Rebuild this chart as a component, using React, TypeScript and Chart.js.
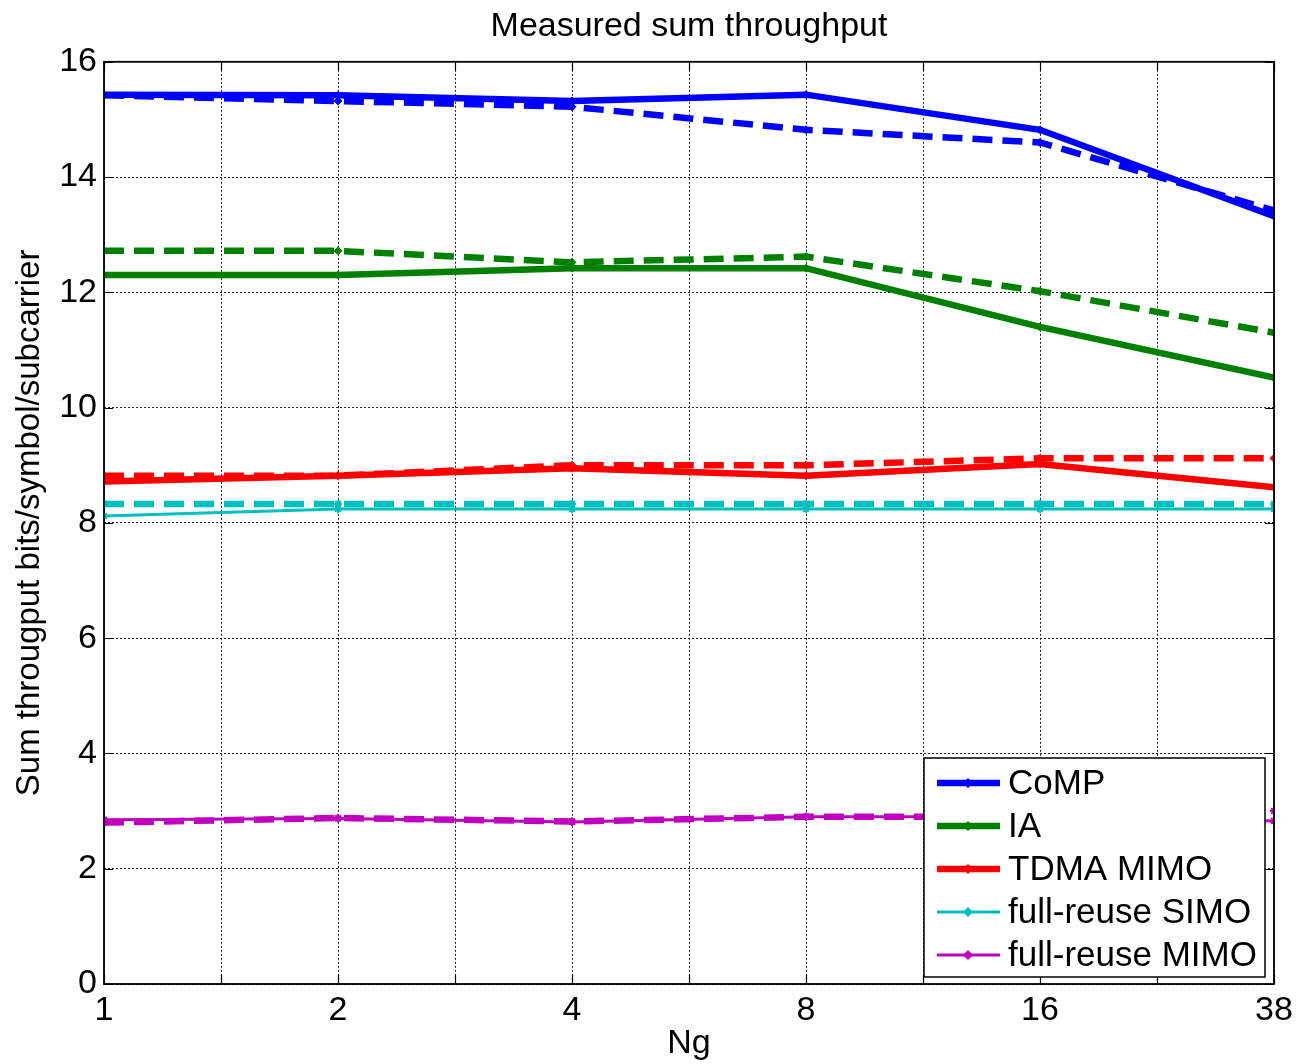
import React, { useEffect, useRef } from 'react';
import { Chart, registerables } from 'chart.js';
Chart.register(...registerables);

const ngLabels = ['1', '2', '4', '8', '16', '38'];
const seriesNames = ['CoMP', 'IA', 'TDMA MIMO', 'full-reuse SIMO', 'full-reuse MIMO'];
const seriesColors = ['#0000ff', '#008000', '#ff0000', '#00bfbf', '#bf00bf'];

const compSolid = [15.43, 15.42, 15.32, 15.43, 14.82, 13.32];
const compDashed = [15.42, 15.32, 15.22, 14.82, 14.6, 13.42];
const iaSolid = [12.3, 12.3, 12.42, 12.42, 11.4, 10.52];
const iaDashed = [12.72, 12.72, 12.52, 12.62, 12.02, 11.3];
const tdmaSolid = [8.72, 8.82, 8.95, 8.82, 9.02, 8.62];
const tdmaDashed = [8.82, 8.82, 9.0, 9.0, 9.12, 9.12];
const simoSolid = [8.12, 8.24, 8.24, 8.24, 8.24, 8.24];
const simoDashed = [8.33, 8.33, 8.33, 8.33, 8.33, 8.33];
const mimoSolid = [2.85, 2.87, 2.81, 2.9, 2.9, 2.83];
const mimoDashed = [2.8, 2.88, 2.82, 2.9, 2.9, 3.0];

const FONT = "'Liberation Sans', Arial, Helvetica, sans-serif";

const toPts = (vals: number[]) => vals.map((v, i) => ({ x: i, y: v }));

function makeDs(label: string, vals: number[], color: string, width: number, dashed: boolean, star: boolean) {
  return {
    label,
    data: toPts(vals),
    borderColor: color,
    backgroundColor: color,
    borderWidth: width,
    borderDash: dashed ? [20, 10] : [],
    pointStyle: star ? 'star' : 'rectRot',
    pointRadius: 4,
    pointBorderWidth: star ? 2 : 1,
    pointBackgroundColor: color,
    pointBorderColor: color,
    tension: 0,
    fill: false,
  };
}

const frameAndLegend = {
  id: 'frameAndLegend',
  afterDatasetsDraw(chart: any) {
    const { ctx, chartArea: ca } = chart;
    const xs = chart.scales.x;
    const ys = chart.scales.y;
    ctx.save();
    ctx.strokeStyle = '#000';
    ctx.lineWidth = 1.2;
    ctx.setLineDash([]);
    xs.ticks.forEach((t: any) => {
      const px = Math.round(xs.getPixelForValue(t.value)) + 0.5;
      ctx.beginPath();
      ctx.moveTo(px, ca.bottom); ctx.lineTo(px, ca.bottom - 9);
      ctx.moveTo(px, ca.top); ctx.lineTo(px, ca.top + 9);
      ctx.stroke();
    });
    ys.ticks.forEach((t: any) => {
      const py = Math.round(ys.getPixelForValue(t.value)) + 0.5;
      ctx.beginPath();
      ctx.moveTo(ca.left, py); ctx.lineTo(ca.left + 9, py);
      ctx.moveTo(ca.right, py); ctx.lineTo(ca.right - 9, py);
      ctx.stroke();
    });
    ctx.lineWidth = 1.8;
    ctx.strokeRect(ca.left, ca.top, ca.right - ca.left, ca.bottom - ca.top);

    const bx = ca.right - 350;
    const by = ca.bottom - 226;
    const bw = 341;
    const bh = 219;
    ctx.fillStyle = '#fff';
    ctx.fillRect(bx, by, bw, bh);
    ctx.lineWidth = 1.5;
    ctx.strokeStyle = '#000';
    ctx.strokeRect(bx, by, bw, bh);
    const widths = [6.5, 6.5, 6.5, 3, 3];
    seriesNames.forEach((name, i) => {
      const cy = by + 25 + i * 43;
      const c = seriesColors[i];
      ctx.strokeStyle = c;
      ctx.fillStyle = c;
      ctx.lineWidth = widths[i];
      ctx.beginPath();
      ctx.moveTo(bx + 13, cy);
      ctx.lineTo(bx + 76, cy);
      ctx.stroke();
      const mx = bx + 44;
      ctx.lineWidth = 1;
      ctx.beginPath();
      ctx.moveTo(mx, cy - 5); ctx.lineTo(mx + 5, cy); ctx.lineTo(mx, cy + 5); ctx.lineTo(mx - 5, cy); ctx.closePath();
      ctx.fill();
      ctx.fillStyle = '#000';
      ctx.font = `35px ${FONT}`;
      ctx.textBaseline = 'middle';
      ctx.textAlign = 'left';
      ctx.fillText(name, bx + 84, cy + 1);
    });
    ctx.restore();
  },
};

export default function App() {
  const ref = useRef<HTMLCanvasElement>(null);
  useEffect(() => {
    document.body.style.margin = '0';
    if (!ref.current) return;
    const datasets = [
      makeDs('CoMP', compSolid, seriesColors[0], 6.5, false, false),
      makeDs('CoMP (dashed)', compDashed, seriesColors[0], 6.5, true, false),
      makeDs('IA', iaSolid, seriesColors[1], 6.5, false, false),
      makeDs('IA (dashed)', iaDashed, seriesColors[1], 6.5, true, false),
      makeDs('TDMA MIMO', tdmaSolid, seriesColors[2], 6.5, false, false),
      makeDs('TDMA MIMO (dashed)', tdmaDashed, seriesColors[2], 6.5, true, false),
      makeDs('full-reuse SIMO', simoSolid, seriesColors[3], 3, false, true),
      makeDs('full-reuse SIMO (dashed)', simoDashed, seriesColors[3], 6.5, true, true),
      makeDs('full-reuse MIMO', mimoSolid, seriesColors[4], 3, false, true),
      makeDs('full-reuse MIMO (dashed)', mimoDashed, seriesColors[4], 6.5, true, true),
    ];
    const chart = new Chart(ref.current, {
      type: 'line',
      data: { datasets } as any,
      options: {
        animation: false,
        responsive: false,
        devicePixelRatio: 1,
        layout: { padding: { top: 0, right: 0, left: 0, bottom: 0 } },
        plugins: {
          legend: { display: false },
          tooltip: { enabled: false },
          title: {
            display: true,
            fullSize: false,
            text: 'Measured sum throughput',
            color: '#000',
            font: { family: FONT, size: 34, weight: 'normal' },
            padding: { top: 6, bottom: 15 },
          },
        },
        scales: {
          x: {
            type: 'linear',
            min: 0,
            max: ngLabels.length - 1,
            afterFit: (s: any) => { s.height = 80; s.paddingRight = 22; s.paddingLeft = 0; },
            afterBuildTicks: (s: any) => {
              const t = [];
              for (let v = 0; v <= ngLabels.length - 1 + 1e-9; v += 0.5) t.push({ value: v });
              s.ticks = t;
            },
            ticks: {
              autoSkip: false,
              maxRotation: 0,
              padding: 6,
              color: '#000',
              font: { family: FONT, size: 34 },
              callback: (v: any) => (Number.isInteger(v) ? ngLabels[v] : ''),
            },
            grid: { color: '#222', lineWidth: 1, drawTicks: false },
            border: { display: false, dash: [2, 2] },
            title: {
              display: true,
              text: 'Ng',
              color: '#000',
              font: { family: FONT, size: 34 },
              padding: { top: 0, bottom: 0 },
            },
          },
          y: {
            min: 0,
            max: 16,
            afterFit: (s: any) => { s.width = 104; },
            ticks: {
              stepSize: 2,
              padding: 7,
              color: '#000',
              font: { family: FONT, size: 34 },
            },
            grid: { color: '#222', lineWidth: 1, drawTicks: false },
            border: { display: false, dash: [2, 2] },
            title: {
              display: true,
              text: 'Sum througput bits/symbol/subcarrier',
              color: '#000',
              font: { family: FONT, size: 33 },
              padding: { top: 10, bottom: 0 },
            },
          },
        },
      } as any,
      plugins: [frameAndLegend],
    });
    return () => chart.destroy();
  }, []);
  return (
    <div style={{ width: 1296, height: 1064 }}>
      <canvas ref={ref} width={1296} height={1064} />
    </div>
  );
}
